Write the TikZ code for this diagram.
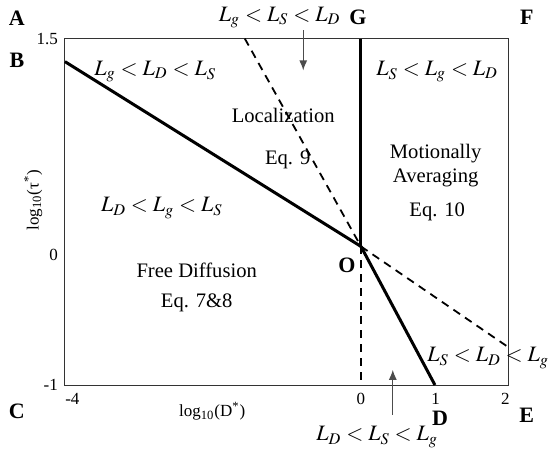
\documentclass[tikz,border=0pt]{standalone}
\usepackage{mathptmx}
\usepackage{fontspec}
\setmainfont{Liberation Serif}
\usepackage{tikz}
\usetikzlibrary{arrows.meta}

\begin{document}
\begin{tikzpicture}[x=37pt, y=69.3pt,
  every node/.style={font=\fontsize{10.3}{12}\selectfont},
  tick/.style={font=\fontsize{8.5}{10}\selectfont},
  corner/.style={font=\fontsize{11}{13}\selectfont\bfseries},
  regime/.style={font=\fontsize{11}{13}\selectfont, inner sep=1pt},
  boundary/.style={line width=1.5pt},
  guess/.style={dashed, line width=0.9pt, dash pattern=on 4pt off 3pt},
  pointer/.style={-{Latex[length=5pt,width=4pt]}, black!70, line width=0.6pt}]
\useasboundingbox (-4.878,-1.491) rectangle (2.541,1.778);
% Corner points of the diagram
\coordinate (A) at (-4,1.5);
\coordinate (B) at (-4,1.3333);
\coordinate (C) at (-4,-1);
\coordinate (D) at (1,-1);
\coordinate (E) at (2,-1);
\coordinate (F) at (2,1.5);
\coordinate (G) at (0,1.5);
\coordinate (O) at (0,0);
\coordinate (H) at (-1.57,1.5);
\coordinate (K) at (2,-0.73);
\coordinate (N) at (0,-1);
% Frame
\draw[black!80, line width=0.5pt] (A) -- (F) -- (E) -- (C) -- cycle;
% Tick labels
\node[tick, anchor=east] at (-4,1.5) {1.5};
\node[tick, anchor=east] at (-4,-0.06) {0};
\node[tick, anchor=east] at (-4,-1) {-1};
\node[tick] at (-3.9,-1.1) {-4};
\node[tick] at (0,-1.1) {0};
\node[tick] at (1.01,-1.1) {1};
\node[tick] at (1.95,-1.1) {2};
% Axis labels
\node[tick, rotate=90] at (-4.43,0.335) {log\textsubscript{10}(τ\textsuperscript{*})};
\node[tick] at (-2.01,-1.19) {log\textsubscript{10}(D\textsuperscript{*})};
% Point letters
\node[corner] at (-4.65,1.65) {A};
\node[corner] at (-4.65,1.345) {B};
\node[corner] at (-4.65,-1.19) {C};
\node[corner] at (1.07,-1.24) {D};
\node[corner] at (2.24,-1.22) {E};
\node[corner] at (2.24,1.65) {F};
\node[corner] at (-0.04,1.65) {G};
\node[corner] at (-0.19,-0.134) {O};
% Solid boundaries
\draw[boundary] (B) -- (O);
\draw[boundary] (O) -- (G);
\draw[boundary] (O) -- (D);
% Dashed boundaries
\draw[guess] (H) -- (O);
\draw[guess] (O) -- (K);
\draw[guess] (O) -- (N);
% Regime inequalities
\node[regime] at (-1.1,1.65) {$L_g < L_S < L_D$};
\node[regime] at (-2.78,1.26) {$L_g < L_D < L_S$};
\node[regime] at (1.03,1.26) {$L_S < L_g < L_D$};
\node[regime] at (-2.69,0.277) {$L_D < L_g < L_S$};
\node[regime] at (1.72,-0.805) {$L_S < L_D < L_g$};
\node[regime] at (0.22,-1.375) {$L_D < L_S < L_g$};
% Regime names
\node at (-1.05,0.947) {Localization};
\node at (-0.99,0.623) {Eq. 9};
\node at (1.01,0.673) {Motionally};
\node at (1.01,0.493) {Averaging};
\node at (1.03,0.248) {Eq. 10};
\node at (-2.22,-0.17) {Free Diffusion};
\node at (-2.22,-0.408) {Eq. 7\&8};
% Pointers from the edge labels
\coordinate (topTail) at (-0.78,1.56);
\coordinate (topHead) at (-0.78,1.27);
\coordinate (botTail) at (0.43,-1.216);
\coordinate (botHead) at (0.43,-0.89);
\draw[pointer] (topTail) -- (topHead);
\draw[pointer] (botTail) -- (botHead);
\end{tikzpicture}
\end{document}
